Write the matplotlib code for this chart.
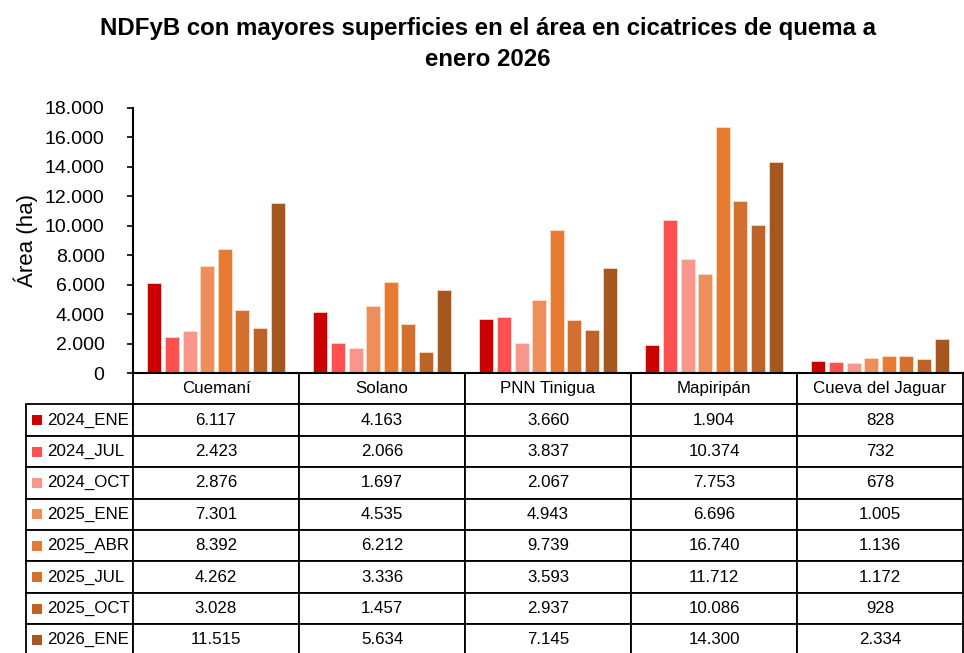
import matplotlib
matplotlib.use("Agg")
import matplotlib.pyplot as plt
from matplotlib.patches import Rectangle
from matplotlib.ticker import FuncFormatter
import numpy as np

plt.rcParams["font.family"] = ["Liberation Sans", "DejaVu Sans"]

# ---------------------------------------------------------------------------
# Data
# ---------------------------------------------------------------------------
places = ["Cuemaní", "Solano", "PNN Tinigua", "Mapiripán", "Cueva del Jaguar"]
periods = ["2024_ENE", "2024_JUL", "2024_OCT", "2025_ENE",
           "2025_ABR", "2025_JUL", "2025_OCT", "2026_ENE"]

area_2024_ene = [6117, 4163, 3660, 1904, 828]
area_2024_jul = [2423, 2066, 3837, 10374, 732]
area_2024_oct = [2876, 1697, 2067, 7753, 678]
area_2025_ene = [7301, 4535, 4943, 6696, 1005]
area_2025_abr = [8392, 6212, 9739, 16740, 1136]
area_2025_jul = [4262, 3336, 3593, 11712, 1172]
area_2025_oct = [3028, 1457, 2937, 10086, 928]
area_2026_ene = [11515, 5634, 7145, 14300, 2334]

series = [area_2024_ene, area_2024_jul, area_2024_oct, area_2025_ene,
          area_2025_abr, area_2025_jul, area_2025_oct, area_2026_ene]

colors = ["#CC0000", "#FF5050", "#F8968C", "#EE8F5B",
          "#E67B31", "#D4702E", "#BE6228", "#A65720"]


def es_fmt(v):
    return f"{int(v):,}".replace(",", ".")


# ---------------------------------------------------------------------------
# Figure
# ---------------------------------------------------------------------------
W, H = 964, 653
fig = plt.figure(figsize=(W / 100, H / 100), dpi=100)
ax_l, ax_r, ax_t, ax_b = 133, 963, 108, 373
ax = fig.add_axes([ax_l / W, 1 - ax_b / H, (ax_r - ax_l) / W, (ax_b - ax_t) / H])

x = np.arange(len(places))
slot = 0.106
for i, (vals, col) in enumerate(zip(series, colors)):
    offs = (i - (len(periods) - 1) / 2) * slot
    ax.bar(x + offs, vals, width=slot * 0.79, color=col, edgecolor="#fbe3d8",
           linewidth=0.5, zorder=2)

ax.set_xlim(-0.5, len(places) - 0.5)
ax.set_ylim(0, 18000)
ax.set_yticks(np.arange(0, 18001, 2000))
ax.yaxis.set_major_formatter(FuncFormatter(lambda v, p: es_fmt(v)))
ax.tick_params(axis="y", labelsize=14, length=4, width=1.2, pad=16.5)
ax.set_xticks([])
for s in ("top", "right"):
    ax.spines[s].set_visible(False)
ax.spines["left"].set_linewidth(1.5)
ax.spines["bottom"].set_linewidth(1.5)
ax.set_ylabel("Área (ha)", fontsize=16)
ax.yaxis.set_label_coords(-(ax_l - 38) / (ax_r - ax_l), 0.5)

# --- Data table under the bars ---
ax_h_px = ax_b - ax_t
row_h_px = 31.4
label_w = (ax_l - 26) / (ax_r - ax_l)
tbl_h = row_h_px * (len(periods) + 1) / ax_h_px
cell_text = [[es_fmt(v) for v in vals] for vals in series]
table = ax.table(cellText=cell_text, colLabels=places,
                 colWidths=[1 / len(places)] * len(places),
                 cellLoc="center", colLoc="center",
                 bbox=[0, -tbl_h, 1, tbl_h])
cell_h = table[(1, 0)].get_height()
for i, name in enumerate(periods):
    table.add_cell(i + 1, -1, width=label_w, height=cell_h, text=name, loc="left")
table.auto_set_font_size(False)
table.set_fontsize(12.2)
for (r, c), cell in table.get_celld().items():
    cell.set_edgecolor("black")
    cell.set_linewidth(1.3)
    if c == -1:
        cell.PAD = 0.2

# legend keys in the row label cells
sq_w = 10 / (ax_r - ax_l)
sq_h = 10 / ax_h_px
for i, col in enumerate(colors):
    yc = -(row_h_px * (i + 1.5)) / ax_h_px
    ax.add_patch(Rectangle((-(ax_l - 32) / (ax_r - ax_l), yc - sq_h / 2), sq_w, sq_h,
                           transform=ax.transAxes, facecolor=col, edgecolor="none",
                           clip_on=False, zorder=5))

fig.text(488 / W, 1 - 44 / H,
         "NDFyB con mayores superficies en el área en cicatrices de quema a\nenero 2026",
         ha="center", va="center", fontsize=17.3, fontweight="bold", linespacing=1.45)

fig.savefig("out.png", dpi=100, facecolor="white")
